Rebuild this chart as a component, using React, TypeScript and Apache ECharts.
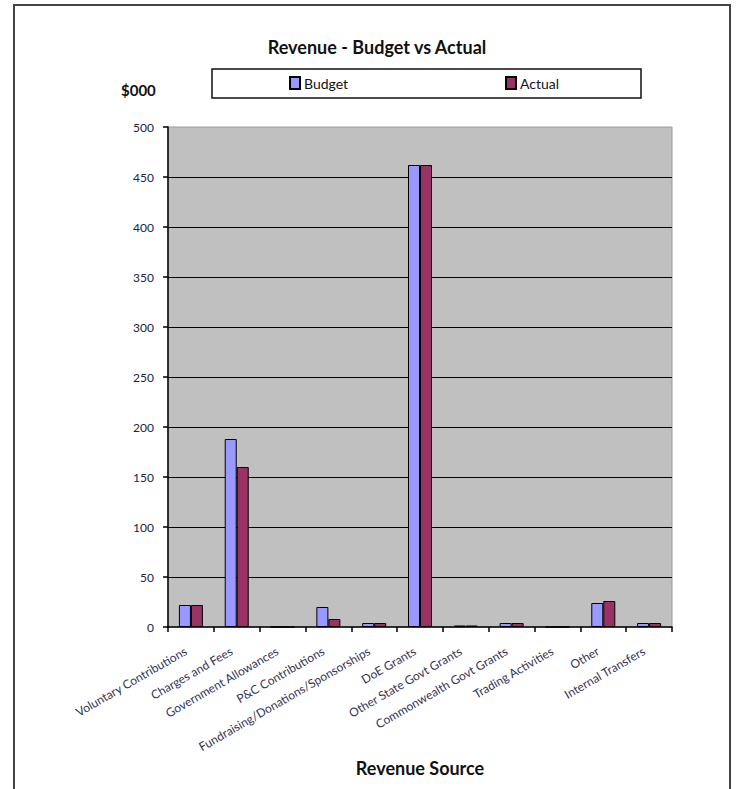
import React, { useEffect, useRef } from "react";
import * as echarts from "echarts";

const categories = [
  "Voluntary Contributions",
  "Charges and Fees",
  "Government Allowances",
  "P&C Contributions",
  "Fundraising/Donations/Sponsorships",
  "DoE Grants",
  "Other State Govt Grants",
  "Commonwealth Govt Grants",
  "Trading Activities",
  "Other",
  "Internal Transfers",
];
const budget = [22, 188, 0, 20, 4, 462, 1.5, 4, 0, 24, 4];
const actual = [22, 160, 0, 8, 4, 462, 1.5, 4, 0, 26, 4];
const yTicks = { min: 0, max: 500, interval: 50 };

const FONT = "Lato, 'Open Sans', sans-serif";

export default function App() {
  const ref = useRef<HTMLDivElement>(null);
  useEffect(() => {
    if (!ref.current) return;
    const chart = echarts.init(ref.current, undefined, { renderer: "svg" });
    chart.setOption({
      animation: false,
      backgroundColor: "#ffffff",
      textStyle: { fontFamily: FONT },
      title: [
        {
          text: "Revenue - Budget vs Actual",
          left: 372,
          top: 33,
          textAlign: "center",
          textStyle: { fontSize: 18, fontWeight: "bold", color: "#111", fontFamily: FONT },
        },
        {
          text: "$000",
          left: 116,
          top: 77,
          textStyle: { fontSize: 15, fontWeight: "bold", color: "#111", fontFamily: FONT },
        },
      ],
      legend: [
        {
          data: ["Budget"],
          left: 289,
          top: 76,
          icon: "rect",
          itemWidth: 10,
          itemHeight: 12,
          itemGap: 5,
          padding: 0,
          textStyle: { fontSize: 14, color: "#111", fontFamily: FONT, padding: [0, 0, 0, -1] },
        },
        {
          data: ["Actual"],
          left: 505,
          top: 76,
          icon: "rect",
          itemWidth: 10,
          itemHeight: 12,
          padding: 0,
          textStyle: { fontSize: 14, color: "#111", fontFamily: FONT, padding: [0, 0, 0, -1] },
        },
      ],
      graphic: [
        {
          type: "rect",
          shape: { x: 14, y: 5, width: 716, height: 820 },
          style: { fill: "none", stroke: "#444", lineWidth: 2 },
          silent: true,
        },
        {
          type: "rect",
          shape: { x: 212, y: 69, width: 429, height: 29 },
          style: { fill: "none", stroke: "#111", lineWidth: 1.5 },
          silent: true,
          z: -1,
        },
      ],
      grid: {
        left: 168,
        top: 127,
        width: 504,
        height: 500,
        show: true,
        backgroundColor: "#c0c0c0",
        borderColor: "#9a9a9a",
        borderWidth: 1,
      },
      xAxis: {
        type: "category",
        data: categories,
        name: "Revenue Source",
        nameLocation: "middle",
        nameGap: 131,
        nameTextStyle: { fontSize: 18, fontWeight: "bold", color: "#111", fontFamily: FONT },
        axisLine: { lineStyle: { color: "#000", width: 1.5 } },
        axisTick: { show: true, length: 5, lineStyle: { color: "#000", width: 1.5 } },
        axisLabel: {
          rotate: 30,
          fontSize: 12,
          color: "#333355",
          margin: 20,
          padding: [0, 6, 0, 0],
          interval: 0,
          fontFamily: FONT,
        },
      },
      yAxis: {
        type: "value",
        min: yTicks.min,
        max: yTicks.max,
        interval: yTicks.interval,
        axisLine: { show: true, lineStyle: { color: "#000", width: 1.5 } },
        axisTick: { show: true, length: 5, lineStyle: { color: "#000", width: 1.5 } },
        axisLabel: { fontSize: 12, color: "#222244", margin: 14, fontFamily: FONT },
        splitLine: {
          show: true,
          showMaxLine: false,
          showMinLine: false,
          lineStyle: { color: "#000", width: 1.2 },
        },
      },
      series: [
        {
          name: "Budget",
          type: "bar",
          data: budget,
          barWidth: 12,
          barGap: "0%",
          itemStyle: { color: "#9999ff", borderColor: "#000", borderWidth: 1 },
        },
        {
          name: "Actual",
          type: "bar",
          data: actual,
          barWidth: 12,
          barGap: "0%",
          itemStyle: { color: "#993366", borderColor: "#000", borderWidth: 1 },
        },
      ],
    });
    return () => chart.dispose();
  }, []);
  return (
    <div
      ref={ref}
      style={{ position: "absolute", left: 0, top: 0, width: 736, height: 789 }}
    />
  );
}
